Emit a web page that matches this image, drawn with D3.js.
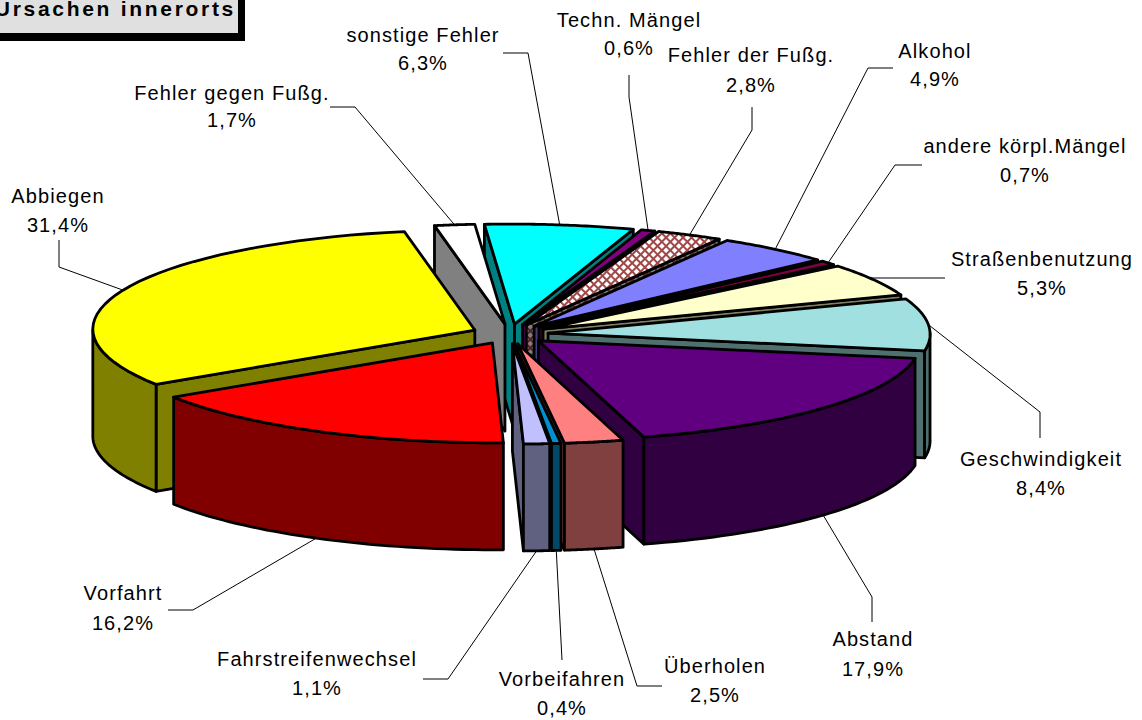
<!DOCTYPE html>
<html><head><meta charset="utf-8">
<script src="https://cdn.jsdelivr.net/npm/d3@7/dist/d3.min.js"></script>
<style>html,body{margin:0;padding:0;background:#fff}svg{display:block}
text{font-family:"Liberation Sans",Arial,sans-serif;fill:#000}</style></head>
<body><svg id="c" width="1142" height="720"></svg>
<script>
const titleText = "Ursachen innerorts";
const categories = ["sonstige Fehler","Techn. Mängel","Fehler der Fußg.","Alkohol","andere körpl.Mängel","Straßenbenutzung","Geschwindigkeit","Abstand","Überholen","Vorbeifahren","Fahrstreifenwechsel","Vorfahrt","Abbiegen","Fehler gegen Fußg."];
const values = [6.3,0.6,2.8,4.9,0.7,5.3,8.4,17.9,2.5,0.4,1.1,16.2,31.4,1.7];
const topColors = ["#00FFFF","#800080","url(#hatch)","#8080FF","#800040","#FFFFCC","#A0E0E0","#600080","#FF8080","#0090D0","#C0C0FF","#FF0000","#FFFF00","#FFFFFF"];
const sideColors = ["#008080","#400040","url(#hatchDark)","#404080","#400020","#808066","#507070","#300040","#804040","#004868","#606080","#800000","#808000","#808080"];
// label centres / elbows (layout only)
const labelX = [423,629,751,935,1025,1042,1041,873,715,562,317,123,58,232];
const nameY  = [42,27,62,58,153,266,466,646,673,686,666,600,203,100];
const pctY   = [70,55,92,86,182,295,495,676,702,715,695,630,232,127];
const elbows = [[[503,53],[528,53]],[[629,75],[629,97]],[[752,107],[752,130]],[[893,68],[868,68]],[[922,165],[895,165]],[[945,278],[870,278]],[[1040,438],[1040,412]],[[872,622],[872,597]],[[662,686],[637,686]],[[562,660]],[[423,679],[448,679]],[[168,610],[193,610]],[[59,240],[59,267]],[[330,107],[355,107]]];
const drawOrder = [0,1,2,3,4,5,6,7,8,9,10,13,12,11];

const cx=510, cy=334, rx=382, ry=100, depth=107, explode=0.1, shear=0.035;
const rotation = -4*Math.PI/180;
const svg = d3.select("#c");
const defs = svg.append("defs");
function hatch(id,bg,fg){
  const p=defs.append("pattern").attr("id",id).attr("width",6).attr("height",6)
    .attr("patternUnits","userSpaceOnUse").attr("patternTransform","rotate(45)");
  p.append("rect").attr("width",6).attr("height",6).attr("fill",bg);
  p.append("rect").attr("x",0).attr("y",2).attr("width",6).attr("height",2).attr("fill",fg);
  p.append("rect").attr("x",2).attr("y",0).attr("width",2).attr("height",6).attr("fill",fg);
}
hatch("hatch","#FFFFFF","#A04848");
hatch("hatchDark","#808080","#502424");

const arcs = d3.pie().sort(null).value(d=>d).startAngle(rotation).endAngle(rotation+2*Math.PI)(values);
const sx = d3.scaleLinear().domain([-1,1]).range([cx-rx,cx+rx]);
const sy = d3.scaleLinear().domain([-1,1]).range([cy+ry,cy-ry]);
const px=(a,r,o)=>{const x=sx(r*Math.sin(a)+o[0]),y=sy(r*Math.cos(a)+o[1]);return [x+shear*(y-cy),y];};
const off=a=>{const m=(a.startAngle+a.endAngle)/2;return [explode*Math.sin(m),explode*Math.cos(m)];};
const line=d3.line();
const arcPts=(a0,a1,o)=>d3.range(0,41).map(i=>px(a0+(a1-a0)*i/40,1,o));
const down=p=>[p[0],p[1]+depth];
const g=svg.append("g").attr("stroke","#000").attr("stroke-width",2.8).attr("stroke-linejoin","round");

drawOrder.forEach(i=>{
  const a=arcs[i], o=off(a), apex=px(0,0,o);
  const s0=px(a.startAngle,1,o), s1=px(a.endAngle,1,o);
  const face=(p,fill)=>g.append("path").attr("d",line([apex,p,down(p),down(apex)])+"Z").attr("fill",fill);
  if(Math.sin(a.startAngle)<0) face(s0,sideColors[i]);
  if(Math.sin(a.endAngle)>0) face(s1,sideColors[i]);
  // visible part of the outer wall: the near half of the ellipse
  const lo=Math.max(a.startAngle,Math.PI/2), hi=Math.min(a.endAngle,3*Math.PI/2);
  if(hi>lo){
    const pts=arcPts(lo,hi,o);
    g.append("path").attr("d",line(pts.concat(pts.map(down).reverse()))+"Z").attr("fill",sideColors[i]);
  }
  g.append("path").attr("d",line([apex].concat(arcPts(a.startAngle,a.endAngle,o)))+"Z").attr("fill",topColors[i]);
});

// leader lines
const leaders=svg.append("g").attr("fill","none").attr("stroke","#000").attr("stroke-width",1);
arcs.forEach((a,i)=>{
  const m=(a.startAngle+a.endAngle)/2, o=off(a);
  let p=px(m,1,o);
  if(Math.cos(m)<0) p=down(p);
  leaders.append("path").attr("d",line(elbows[i].concat([p])));
});

// labels
const labels=svg.append("g").attr("font-size",20).attr("text-anchor","middle").attr("letter-spacing","1.1px");
categories.forEach((c,i)=>{
  labels.append("text").attr("x",labelX[i]).attr("y",nameY[i]).text(c);
  labels.append("text").attr("x",labelX[i]).attr("y",pctY[i]).text(d3.format(".1f")(values[i]).replace(".",",")+"%");
});

// title box (clipped by the picture edge)
svg.append("rect").attr("x",-20).attr("y",-20).attr("width",265).attr("height",61).attr("fill","#000");
svg.append("rect").attr("x",-20).attr("y",-20).attr("width",258).attr("height",53).attr("fill","#E0E0E0");
svg.append("text").attr("x",236).attr("y",16).attr("text-anchor","end").attr("font-size",21).attr("font-weight","bold").attr("letter-spacing","2.7px").text(titleText);
</script></body></html>
